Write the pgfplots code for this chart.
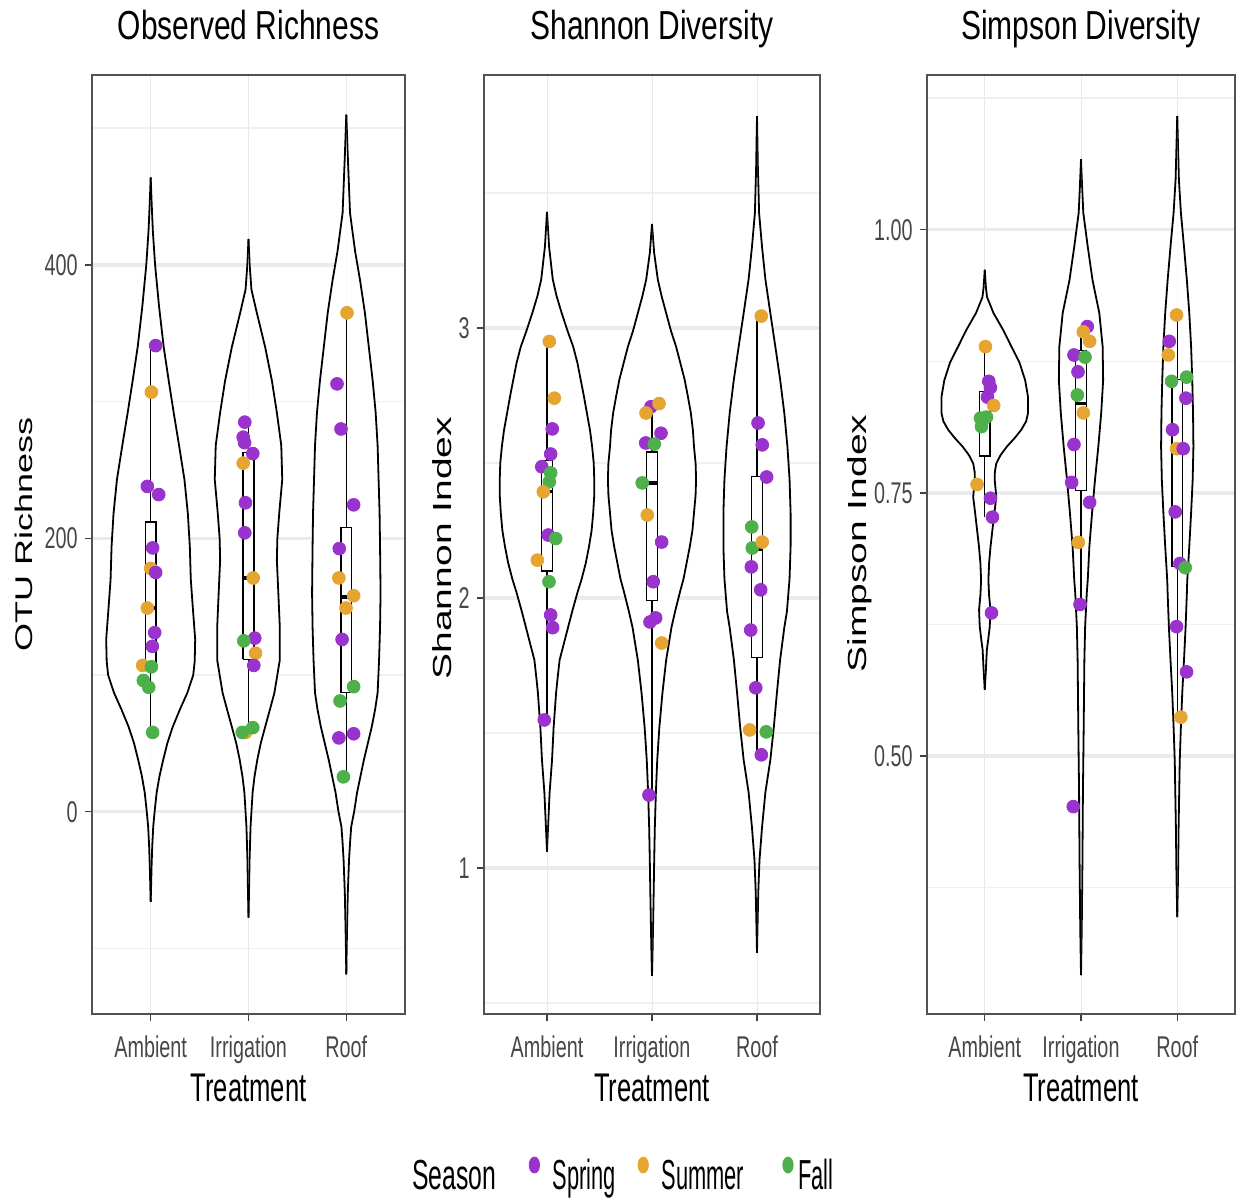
\documentclass[border=0pt]{standalone}
\usepackage{fontspec}
\setmainfont{Liberation Sans}[FakeStretch=0.66]
\newfontfamily\titlefam{Liberation Sans}[FakeStretch=0.74]
\newfontfamily\labfam{Liberation Sans}[FakeStretch=0.64]
\newfontfamily\tickfam{Liberation Sans}[FakeStretch=0.66]
\newfontfamily\seasonfam{Liberation Sans}[FakeStretch=0.59]
\newfontfamily\entryfam{Liberation Sans}[FakeStretch=0.52]
\newfontfamily\plainfam{Liberation Sans}
\usepackage{graphicx}
\usepackage{pgfplots}
\usepackage{pgfplotstable}
\pgfplotsset{compat=1.18}

\definecolor{cSpr}{HTML}{9A32CD}
\definecolor{cSum}{HTML}{E5A530}
\definecolor{cFal}{HTML}{4DB04A}

\newcommand\titlef{\titlefam\fontsize{20.25}{23}\selectfont}
\newcommand\labf{\labfam\fontsize{20}{23}\selectfont}
\newcommand\ylabf{\plainfam\fontsize{19.5}{22}\selectfont}
\newcommand\tickf{\tickfam\fontsize{15}{17}\selectfont}
\newcommand\seasonf{\seasonfam\fontsize{21}{24}\selectfont}
\newcommand\entryf{\entryfam\fontsize{21}{24}\selectfont}

% ---------- violin outlines: value v, half width w (in category units)
\pgfplotstableread{
v w
464 0
445 0.01
425 0.022
400 0.045
370 0.085
340 0.133
315 0.185
292 0.235
268 0.29
243 0.345
218 0.38
194 0.40
170 0.41
150 0.43
126 0.455
110 0.45
100 0.435
87 0.375
75 0.30
62 0.225
50 0.17
38 0.128
26 0.09
14 0.061
0 0.04
-11 0.026
-25 0.016
-40 0.009
-55 0.004
-66 0
}\vRA
\pgfplotstableread{
v w
419 0
400 0.012
382 0.03
365 0.085
340 0.17
315 0.24
292 0.29
268 0.335
243 0.345
219 0.315
200 0.295
184 0.29
160 0.305
135 0.32
111 0.32
87 0.265
75 0.22
62 0.17
50 0.125
38 0.09
26 0.062
14 0.042
0 0.03
-11 0.021
-35 0.011
-60 0.005
-77.5 0
}\vRI
\pgfplotstableread{
v w
510 0
480 0.015
438 0.038
410 0.09
389 0.14
365 0.19
340 0.23
315 0.27
292 0.30
268 0.32
243 0.33
219 0.34
194 0.345
160 0.35
135 0.345
111 0.335
87 0.32
75 0.295
62 0.26
50 0.22
38 0.18
26 0.145
14 0.11
0 0.08
-11 0.05
-23 0.038
-35 0.028
-60 0.015
-84 0.008
-100 0.004
-119 0
}\vRR
\pgfplotstableread{
v w
3.43 0
3.30 0.02
3.18 0.055
3.12 0.09
3.055 0.14
2.99 0.195
2.93 0.25
2.87 0.29
2.81 0.32
2.75 0.35
2.685 0.38
2.62 0.41
2.56 0.43
2.50 0.445
2.44 0.45
2.38 0.45
2.315 0.44
2.25 0.425
2.19 0.40
2.13 0.37
2.07 0.33
2.02 0.29
1.95 0.24
1.89 0.20
1.83 0.16
1.77 0.12
1.70 0.10
1.65 0.087
1.52 0.063
1.40 0.048
1.28 0.025
1.15 0.01
1.06 0
}\vSA
\pgfplotstableread{
v w
3.385 0
3.28 0.02
3.18 0.055
3.12 0.09
3.055 0.135
2.99 0.18
2.93 0.23
2.87 0.27
2.81 0.31
2.75 0.34
2.685 0.37
2.62 0.39
2.56 0.40
2.50 0.415
2.44 0.42
2.38 0.415
2.315 0.40
2.25 0.385
2.19 0.36
2.13 0.33
2.07 0.30
2.02 0.265
1.95 0.22
1.89 0.185
1.77 0.135
1.65 0.10
1.52 0.07
1.40 0.05
1.28 0.037
1.15 0.027
1.03 0.021
0.91 0.016
0.78 0.01
0.68 0.005
0.60 0
}\vSI
\pgfplotstableread{
v w
3.785 0
3.60 0.008
3.426 0.02
3.30 0.048
3.18 0.08
3.055 0.127
2.93 0.175
2.81 0.22
2.685 0.26
2.56 0.29
2.44 0.31
2.315 0.32
2.19 0.32
2.07 0.31
1.95 0.285
1.89 0.26
1.77 0.22
1.65 0.19
1.52 0.16
1.40 0.127
1.28 0.08
1.15 0.048
1.03 0.024
0.91 0.012
0.80 0.006
0.685 0
}\vSR
\pgfplotstableread{
v w
0.962 0
0.945 0.012
0.936 0.024
0.921 0.09
0.905 0.19
0.889 0.277
0.874 0.36
0.857 0.42
0.841 0.45
0.826 0.45
0.818 0.43
0.810 0.38
0.802 0.31
0.794 0.23
0.786 0.165
0.778 0.12
0.770 0.105
0.762 0.104
0.746 0.12
0.731 0.10
0.715 0.08
0.699 0.06
0.683 0.045
0.667 0.038
0.653 0.045
0.639 0.059
0.623 0.052
0.612 0.038
0.601 0.022
0.582 0.012
0.563 0
}\vPA
\pgfplotstableread{
v w
1.067 0
1.04 0.012
1.016 0.024
0.984 0.07
0.952 0.12
0.921 0.19
0.889 0.225
0.857 0.23
0.826 0.21
0.794 0.18
0.762 0.145
0.731 0.115
0.699 0.087
0.667 0.07
0.655 0.06
0.623 0.043
0.591 0.035
0.528 0.028
0.465 0.02
0.401 0.015
0.337 0.008
0.292 0
}\vPI
\pgfplotstableread{
v w
1.108 0
1.08 0.008
1.048 0.017
1.016 0.038
0.984 0.07
0.952 0.10
0.921 0.125
0.889 0.144
0.857 0.156
0.826 0.164
0.794 0.168
0.762 0.16
0.731 0.144
0.699 0.125
0.667 0.104
0.655 0.10
0.623 0.087
0.591 0.07
0.56 0.052
0.528 0.038
0.496 0.026
0.432 0.014
0.385 0.008
0.347 0
}\vPR

% ---------- samples (jittered position, value, season)
\pgfplotstableread{
x y s
1.051 341 Spring
1.007 307 Summer
0.966 238 Spring
1.082 232 Spring
1.020 193 Spring
1.000 178 Summer
1.051 175 Spring
0.966 149 Summer
1.041 131 Spring
1.017 121 Spring
0.918 107 Summer
1.007 106 Fall
0.925 96 Fall
0.980 91 Fall
1.020 58 Fall
1.962 285 Spring
1.946 274 Spring
1.960 270 Spring
2.044 262 Spring
1.946 255 Summer
1.969 226 Spring
1.962 204 Spring
2.048 171 Summer
2.064 127 Spring
1.952 125 Fall
2.072 116 Summer
2.054 107 Spring
1.969 58 Summer
1.936 58 Fall
2.044 61.5 Fall
3.007 365 Summer
2.905 313 Spring
2.946 280 Spring
3.075 224.5 Spring
2.928 192.5 Spring
2.924 171 Summer
3.075 158 Summer
2.997 149 Summer
2.957 126 Spring
3.075 91.5 Fall
2.936 81 Fall
2.924 54 Spring
3.075 57 Spring
2.970 25.5 Fall
}\pRich
\pgfplotstableread{
x y s
1.022 2.95 Summer
1.070 2.74 Summer
1.050 2.626 Spring
1.035 2.533 Spring
0.950 2.486 Spring
1.035 2.463 Fall
1.022 2.43 Fall
0.965 2.393 Summer
1.012 2.233 Spring
1.083 2.22 Fall
0.908 2.14 Summer
1.019 2.06 Fall
1.035 1.937 Spring
1.054 1.89 Spring
0.974 1.548 Spring
1.990 2.708 Spring
2.067 2.72 Summer
1.943 2.685 Summer
2.086 2.61 Spring
1.940 2.574 Spring
2.022 2.57 Fall
1.907 2.426 Fall
1.955 2.307 Summer
2.092 2.207 Spring
2.012 2.06 Spring
1.981 1.911 Spring
2.035 1.926 Spring
2.092 1.833 Summer
1.971 1.27 Spring
3.041 3.044 Summer
3.010 2.648 Spring
3.050 2.567 Spring
3.092 2.448 Spring
2.950 2.263 Fall
2.955 2.185 Fall
3.050 2.207 Summer
2.946 2.115 Spring
3.035 2.03 Spring
2.940 1.881 Spring
2.988 1.667 Spring
2.930 1.511 Summer
3.088 1.504 Fall
3.041 1.419 Spring
}\pShan
\pgfplotstableread{
x y s
1.007 0.889 Summer
1.042 0.856 Spring
1.059 0.850 Spring
1.028 0.841 Spring
1.093 0.833 Summer
1.018 0.822 Fall
0.955 0.821 Fall
0.966 0.813 Fall
0.920 0.758 Summer
1.059 0.745 Spring
1.080 0.727 Spring
1.070 0.636 Spring
2.065 0.908 Spring
2.024 0.903 Summer
2.090 0.894 Summer
1.927 0.881 Spring
2.042 0.879 Fall
1.969 0.865 Spring
1.962 0.843 Fall
2.024 0.826 Summer
1.927 0.796 Spring
1.903 0.760 Spring
2.090 0.741 Spring
1.972 0.703 Summer
1.990 0.644 Spring
1.920 0.452 Spring
2.993 0.919 Summer
2.917 0.894 Spring
2.907 0.881 Summer
2.941 0.856 Fall
3.097 0.860 Fall
3.090 0.840 Spring
2.951 0.810 Spring
2.993 0.792 Summer
3.062 0.792 Spring
2.979 0.732 Spring
3.028 0.683 Spring
3.083 0.679 Fall
2.993 0.623 Spring
3.097 0.580 Spring
3.038 0.537 Summer
}\pSimp

\pgfplotsset{
  panel/.style={
    scale only axis, height=469.5pt,
    xmin=0.4, xmax=3.6, xtick={1,2,3}, xticklabels={Ambient,Irrigation,Roof},
    tick pos=left, tick align=outside, major tick length=3.5pt,
    tick style={black!75, line width=0.7pt},
    minor tick style={draw=none},
    axis line style={black!68, line width=0.8pt},
    xmajorgrids, ymajorgrids, yminorgrids,
    grid style={black!8},
    major grid style={line width=1.6pt},
    minor grid style={line width=0.8pt, black!6},
    x grid style={line width=0.45pt, black!9},
    ticklabel style={font=\tickf, text=black!72},
    xticklabel style={anchor=base, yshift=-18.5pt},
    yticklabel style={anchor=east, inner xsep=0pt, xshift=-3.5pt},
    every axis title shift=0pt,
    title style={at={(axis description cs:0.5,1)}, anchor=base, yshift=17.8pt, font=\titlef},
    xlabel={Treatment},
    xlabel style={at={(axis description cs:0.5,0)}, anchor=base, yshift=-43.8pt, font=\labf},
    ylabel style={anchor=base, font=\ylabf},
  },
  vio/.style={forget plot, draw=black, fill=white, line width=0.9pt, line join=round},
  bxl/.style={forget plot, draw=black, line width=0.65pt, mark=none},
  pts/.style={forget plot, only marks, mark=*, mark size=3.2pt, scatter,
    scatter src=explicit symbolic,
    scatter/classes={Spring={mark=*, cSpr}, Summer={mark=*, cSum}, Fall={mark=*, cFal}}},
}

% violin: both halves drawn from one outline table
\newcommand\violin[2]{%
  \addplot[vio] table[x expr=#1+\thisrow{w}, y=v]{#2};
  \addplot[vio] table[x expr=#1-\thisrow{w}, y=v]{#2};
}
% box: left, centre, right, lower whisker, Q1, median, Q3, upper whisker
\newcommand\bx[8]{%
  \addplot[bxl] coordinates {(#2,#4) (#2,#5)};
  \addplot[bxl] coordinates {(#2,#7) (#2,#8)};
  \addplot[bxl, fill=white] coordinates {(#1,#5) (#3,#5) (#3,#7) (#1,#7) (#1,#5)};
  \addplot[bxl, line width=1.6pt] coordinates {(#1,#6) (#3,#6)};
}

\begin{document}
\begin{tikzpicture}
\useasboundingbox (0,0) rectangle (619.5pt,601pt);

% ---------------- Observed Richness
\begin{axis}[panel, at={(46pt,94pt)}, anchor=south west, width=156.5pt,
  ymin=-148, ymax=539, ytick={0,200,400}, yticklabels={0,200,400},
  minor ytick={-100,100,300,500},
  title={Observed Richness},
  ylabel={\scalebox{1}[0.67]{OTU Richness}},
  ylabel style={at={(axis description cs:-0.1916,0.511)}, font=\plainfam\fontsize{18}{21}\selectfont}]
\violin{1}{\vRA}
\violin{2}{\vRI}
\violin{3}{\vRR}
\bx{0.945}{1}{1.055}{58}{106.5}{149}{212}{341}
\bx{1.945}{2}{2.055}{58}{111.5}{171}{263}{285}
\bx{2.945}{3}{3.055}{25.5}{87}{157}{208}{365}
\addplot[pts] table[x=x, y=y, meta=s]{\pRich};
\end{axis}

% ---------------- Shannon Diversity
\begin{axis}[panel, at={(242pt,94pt)}, anchor=south west, width=168pt,
  ymin=0.459, ymax=3.937, ytick={1,2,3}, yticklabels={1,2,3},
  minor ytick={0.5,1.5,2.5,3.5},
  title={Shannon Diversity},
  ylabel={\scalebox{1}[0.67]{Shannon Index}},
  ylabel style={at={(axis description cs:-0.0964,0.496)}},
  legend columns=4,
  legend style={at={(axis description cs:-0.2143,-0.1864)}, anchor=base west,
    draw=none, fill=none, inner sep=0pt, outer sep=0pt, font=\entryf,
    /tikz/every odd column/.style={column sep=6.4pt},
    /tikz/every even column/.style={column sep=0pt},
    nodes={inner sep=0pt, anchor=base west}}]
\violin{1}{\vSA}
\violin{2}{\vSI}
\violin{3}{\vSR}
\bx{0.945}{1}{1.055}{1.548}{2.10}{2.393}{2.51}{2.95}
\bx{1.945}{2}{2.055}{1.27}{1.99}{2.426}{2.54}{2.72}
\bx{2.945}{3}{3.055}{1.419}{1.78}{2.178}{2.45}{3.044}
\addplot[pts] table[x=x, y=y, meta=s]{\pShan};
\addlegendimage{legend image code/.code={\node[anchor=base west, inner sep=0pt, font=\seasonf] at (0pt,0pt) {\makebox[51pt][l]{Season}};}}
\addlegendentry{}
\addlegendimage{legend image code/.code={\fill[cSpr] (2.6pt,12pt) ellipse[x radius=2.6pt, y radius=4pt];}}
\addlegendentry{\makebox[42.4pt][l]{Spring}}
\addlegendimage{legend image code/.code={\fill[cSum] (2.6pt,12pt) ellipse[x radius=2.6pt, y radius=4pt];}}
\addlegendentry{\makebox[60.4pt][l]{Summer}}
\addlegendimage{legend image code/.code={\fill[cFal] (2.6pt,12pt) ellipse[x radius=2.6pt, y radius=4pt];}}
\addlegendentry{\hspace{-4pt}Fall}
\end{axis}

% ---------------- Simpson Diversity
\begin{axis}[panel, at={(463.5pt,94pt)}, anchor=south west, width=154pt,
  ymin=0.255, ymax=1.147, ytick={0.5,0.75,1}, yticklabels={0.50,0.75,1.00},
  minor ytick={0.375,0.625,0.875,1.125},
  title={Simpson Diversity},
  ylabel={\scalebox{1}[0.67]{Simpson Index}},
  ylabel style={at={(axis description cs:-0.196,0.501)}}]
\violin{1}{\vPA}
\violin{2}{\vPI}
\violin{3}{\vPR}
\bx{0.945}{1}{1.055}{0.727}{0.785}{0.825}{0.846}{0.889}
\bx{1.945}{2}{2.055}{0.644}{0.752}{0.835}{0.885}{0.908}
\bx{2.945}{3}{3.055}{0.537}{0.68}{0.792}{0.858}{0.919}
\addplot[pts] table[x=x, y=y, meta=s]{\pSimp};
\end{axis}
\end{tikzpicture}
\end{document}
